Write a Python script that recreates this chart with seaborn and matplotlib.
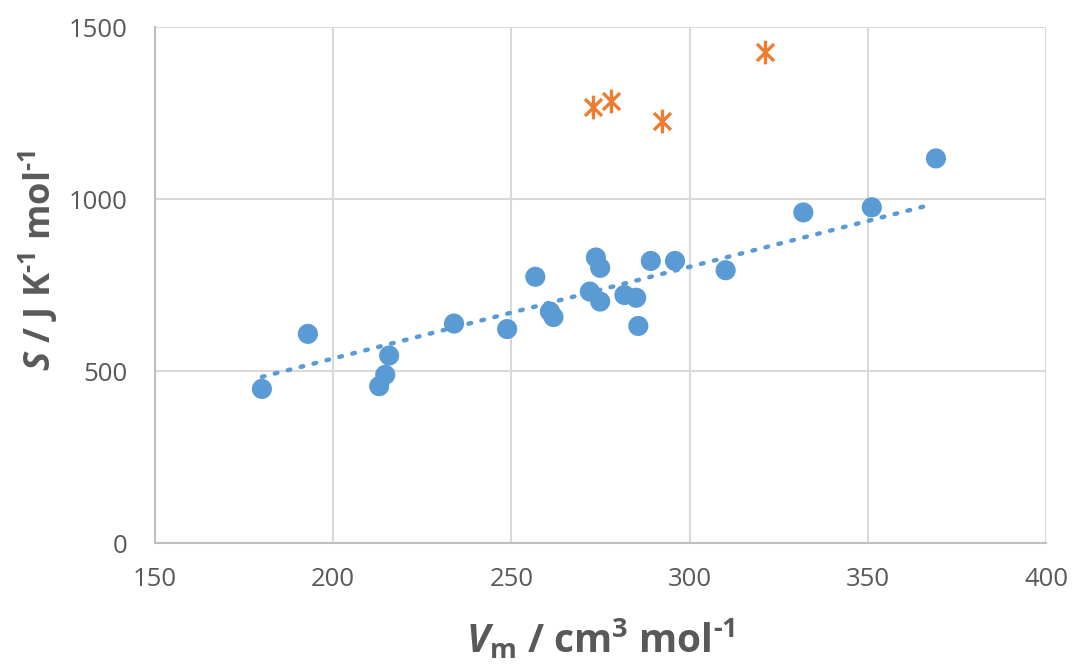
import numpy as np
import pandas as pd
import matplotlib
matplotlib.use("Agg")
import matplotlib.pyplot as plt
from matplotlib.path import Path
import seaborn as sns

# Molar volume (cm3/mol) and entropy (J/K/mol)
vm_main = [180.0, 192.9, 212.9, 214.6, 215.7, 233.9, 248.8, 256.7, 260.8, 261.8,
           272.0, 273.7, 274.9, 274.9, 281.7, 285.0, 285.6, 289.1, 295.9, 310.1,
           331.9, 351.1, 369.1]
s_main = [448, 608, 456, 489, 545, 638, 622, 774, 673, 657,
          731, 830, 800, 702, 721, 713, 631, 820, 820, 793,
          961, 976, 1118]

vm_out = [273.0, 277.9, 292.2, 321.2]
s_out = [1267, 1286, 1228, 1428]

# linear trendline of the main series (end points)
trend_vm = [180.0, 367.5]
trend_s = [483, 983]

xticks = [150, 200, 250, 300, 350, 400]
yticks = [0, 500, 1000, 1500]

blue = "#5B9BD5"
orange = "#ED7D31"
grey = "#595959"

sns.set_theme(style="white")
plt.rcParams["font.family"] = ["Open Sans", "DejaVu Sans"]
plt.rcParams["mathtext.fontset"] = "custom"
plt.rcParams["mathtext.bfit"] = "Open Sans:italic:bold"
plt.rcParams["mathtext.bf"] = "Open Sans:bold"
plt.rcParams["mathtext.rm"] = "Open Sans:bold"

# star marker: vertical stroke crossed by an X
d = 0.72
star = Path([(0, -1), (0, 1), (-d, -d), (d, d), (-d, d), (d, -d)],
            [Path.MOVETO, Path.LINETO, Path.MOVETO, Path.LINETO,
             Path.MOVETO, Path.LINETO])

main = pd.DataFrame({"Vm": vm_main, "S": s_main})
out = pd.DataFrame({"Vm": vm_out, "S": s_out})
trend = pd.DataFrame({"Vm": trend_vm, "S": trend_s})

fig = plt.figure(figsize=(10.74, 6.64), dpi=100)
ax = fig.add_axes([0.1443, 0.1822, 0.8297, 0.7771])

sns.lineplot(data=trend, x="Vm", y="S", ax=ax, color=blue, lw=3.2,
             linestyle=(0, (0.6, 2.4)), dash_capstyle="round", zorder=2)

sns.scatterplot(data=main, x="Vm", y="S", ax=ax, color=blue, s=210,
                edgecolor="none", zorder=3)
sns.scatterplot(data=out, x="Vm", y="S", ax=ax, color=orange, s=290,
                marker=star, linewidth=2.4, edgecolor=orange, zorder=3)

ax.set_xlim(150, 400)
ax.set_ylim(0, 1500)
ax.set_xticks(xticks)
ax.set_yticks(yticks)
ax.grid(True, color="#D9D9D9", lw=1.5)
ax.set_axisbelow(True)
for side in ["top", "right"]:
    ax.spines[side].set_visible(False)
for side in ["left", "bottom"]:
    ax.spines[side].set_color("#BFBFBF")
    ax.spines[side].set_linewidth(1.5)
ax.tick_params(axis="both", length=0, labelsize=18.5, labelcolor=grey)
ax.tick_params(axis="x", pad=17)
ax.tick_params(axis="y", pad=20)

ax.set_xlabel(r"$\mathbfit{V}_{\mathbf{m}}$ / cm$^{\mathbf{3}}$ mol$^{\text{-}\mathbf{1}}$",
              fontsize=28, fontweight="bold", color=grey, labelpad=18)
ax.set_ylabel(r"$\mathbfit{S}$ / J K$^{\text{-}\mathbf{1}}$ mol$^{\text{-}\mathbf{1}}$",
              fontsize=26, fontweight="bold", color=grey, labelpad=6)
ax.yaxis.label.set_y(0.548)

fig.savefig("out.png", dpi=100)
